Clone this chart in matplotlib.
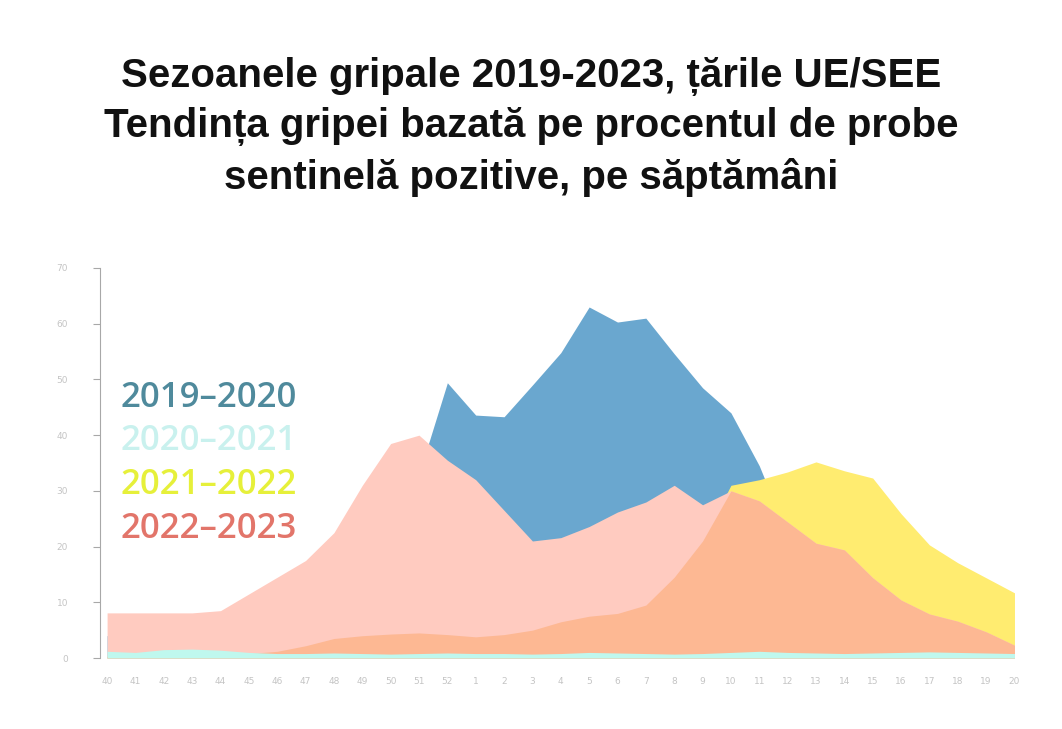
import numpy as np
import matplotlib
matplotlib.use("Agg")
import matplotlib.pyplot as plt

weeks = ["40", "41", "42", "43", "44", "45", "46", "47", "48", "49", "50", "51", "52",
         "1", "2", "3", "4", "5", "6", "7", "8", "9", "10", "11", "12", "13", "14",
         "15", "16", "17", "18", "19", "20"]

# % pozitivitate
s2019_2020 = [4, 6, 7.5, 7.5, 7, 10, 12, 15, 19, 23, 28, 33, 49.4,
              43.6, 43.3, 49.0, 54.8, 63.0, 60.3, 61.0, 54.6, 48.5, 44.0, 34.5, 22, 14, 8,
              4, 2, 1.5, 1, 1, 0.5]
s2020_2021 = [1.2, 1.0, 1.5, 1.6, 1.4, 1.0, 0.8, 0.8, 0.9, 0.8, 0.7, 0.8, 0.9,
              0.8, 0.8, 0.7, 0.8, 1.0, 0.9, 0.8, 0.7, 0.8, 1.0, 1.2, 1.0, 0.9, 0.8,
              0.9, 1.0, 1.1, 1.0, 0.9, 0.8]
s2021_2022 = [0.3, 0.3, 0.4, 0.5, 0.6, 0.8, 1.2, 2.2, 3.5, 4.0, 4.3, 4.5, 4.2,
              3.8, 4.2, 5.0, 6.5, 7.5, 8.0, 9.5, 14.5, 21.0, 31.0, 32.0, 33.4, 35.2, 33.6,
              32.3, 25.9, 20.3, 17.1, 14.4, 11.7]
s2022_2023 = [8.1, 8.1, 8.1, 8.1, 8.5, 11.5, 14.5, 17.5, 22.5, 31.0, 38.5, 40.0, 35.5,
              32.0, 26.5, 21.0, 21.6, 23.6, 26.2, 28.0, 31.0, 27.5, 30.0, 28.2, 24.4, 20.6, 19.4,
              14.4, 10.4, 7.9, 6.6, 4.7, 2.3]

seasons = ["2019–2020", "2020–2021", "2021–2022", "2022–2023"]
label_colors = ["#4f8a9c", "#c9f1ee", "#e6f03a", "#e2756a"]

x = np.arange(len(weeks))
fig = plt.figure(figsize=(10.62, 7.29), dpi=100)
ax = fig.add_axes([100 / 1062, 71 / 729, 940 / 1062, 390 / 729])

ax.fill_between(x, 0, s2019_2020, color="#6aa7cf", lw=0, zorder=1)
ax.fill_between(x, 0, s2021_2022, color="#ffec70", lw=0, zorder=2)
ax.fill_between(x, 0, s2022_2023, color="#ffcbc0", lw=0, zorder=3)
# zona unde 2021-2022 si 2022-2023 se suprapun
ax.fill_between(x, 0, np.minimum(s2021_2022, s2022_2023), color="#fdb893", lw=0, zorder=4)
ax.fill_between(x, 0, s2020_2021, color="#bff8ee", lw=0, zorder=5)

ax.set_xlim(-0.25, 32.9)
ax.set_ylim(0, 70)
ax.set_xticks(x)
ax.set_xticklabels(weeks, fontsize=6.5, color="#c4c4c4")
ax.set_yticks(range(0, 71, 10))
ax.set_yticklabels([str(v) for v in range(0, 71, 10)], fontsize=6.5, color="#c4c4c4")
ax.tick_params(axis="x", length=0, pad=14)
ax.tick_params(axis="y", length=5, color="#a8a8a8", pad=18)
for side in ["top", "right", "bottom"]:
    ax.spines[side].set_visible(False)
ax.spines["left"].set_color("#a8a8a8")

for i, (s, c) in enumerate(zip(seasons, label_colors)):
    fig.text(121 / 1062, 1 - (398 + i * 43.5) / 729, s, color=c, fontsize=25,
             family="Open Sans", fontweight="semibold", va="center", ha="left")

title = ("Sezoanele gripale 2019-2023, țările UE/SEE\n"
         "Tendința gripei bazată pe procentul de probe\n"
         "sentinelă pozitive, pe săptămâni")
fig.text(0.5, 1 - 127 / 729, title, ha="center", va="center", fontsize=29,
         fontweight="bold", family="Liberation Sans",
         linespacing=1.38, color="#111111")

fig.savefig("out.png", dpi=100)
